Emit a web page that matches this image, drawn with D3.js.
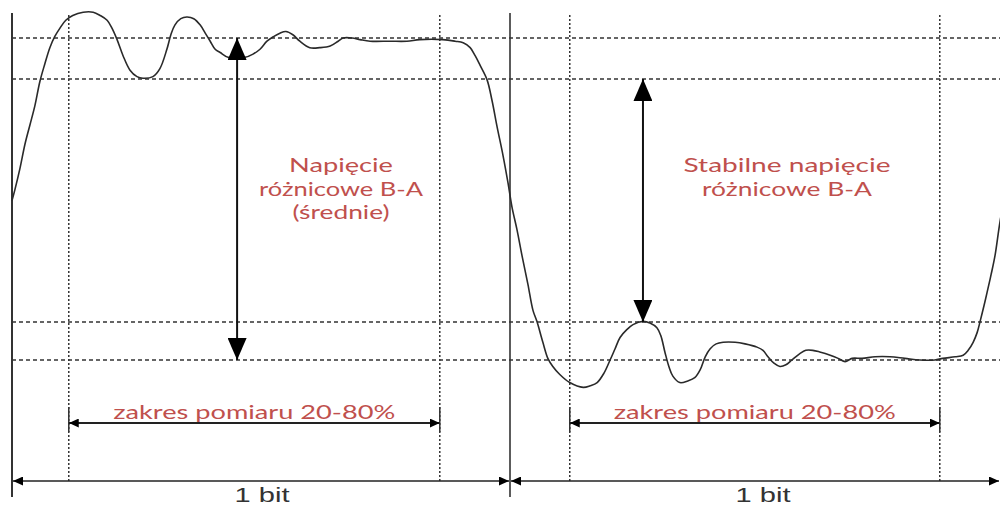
<!DOCTYPE html>
<html><head><meta charset="utf-8">
<script src="https://cdn.jsdelivr.net/npm/d3@7"></script>
<style>html,body{margin:0;padding:0;background:#fff;}svg{display:block;}</style>
</head><body>
<script>
// ---- data (time in ns, 1 bit = 100 ns; voltage normalized to mean level = ±1) ----
const waveT = [0,0.6,1.6,2.6,3.6,4.6,5.6,6.6,7.6,8.6,9.6,10.8,12.2,14.3,16.3,17.7,19.1,20.1,21.1,22.3,23.7,25.1,26.3,28.3,29.7,31.1,31.9,32.7,33.9,35.1,36.5,37.8,38.8,39.8,40.8,41.8,43.4,45.2,46.8,48.4,49.8,51.2,52.6,53.8,55.0,56.4,57.8,59.8,61.8,63.9,65.5,66.5,68.3,69.9,71.9,75.9,79.3,81.9,86.5,89.0,90.6,92.0,93.0,94.0,95.4,96.4,97.4,98.6,99.6,100.4,101.4,102.4,103.6,104.6,105.4,106.6,107.6,108.6,110.0,112.0,114.7,116.1,117.5,118.9,120.1,121.1,122.1,123.5,124.7,126.7,128.1,129.5,130.3,131.1,131.9,132.7,134.1,135.7,137.1,138.2,139.2,140.2,141.4,142.8,145.2,147.2,149.6,150.8,151.8,153.0,154.2,155.4,156.6,158.2,159.4,160.8,162.2,164.3,165.9,167.3,168.7,170.7,173.3,176.3,179.3,182.3,185.3,186.9,189.4,191.0,192.0,193.0,193.8,194.4,195.2,195.8,196.6,197.4,198.4,199.4];
const waveV = [-0.01,0.06,0.19,0.34,0.46,0.58,0.73,0.84,0.94,1.01,1.06,1.11,1.14,1.16,1.16,1.14,1.11,1.06,0.99,0.89,0.80,0.76,0.75,0.76,0.81,0.93,1.02,1.08,1.12,1.13,1.12,1.08,1.03,0.98,0.93,0.91,0.88,0.88,0.88,0.90,0.93,0.98,1.01,1.03,1.04,1.02,0.98,0.94,0.94,0.95,0.98,1.0,1.0,0.99,0.98,0.98,0.98,0.99,0.99,0.98,0.97,0.94,0.89,0.83,0.74,0.61,0.45,0.27,0.10,-0.05,-0.19,-0.35,-0.53,-0.69,-0.76,-0.89,-0.99,-1.04,-1.09,-1.14,-1.17,-1.16,-1.14,-1.08,-1.0,-0.93,-0.86,-0.81,-0.78,-0.76,-0.77,-0.80,-0.85,-0.95,-1.04,-1.10,-1.14,-1.13,-1.11,-1.06,-0.98,-0.93,-0.90,-0.89,-0.89,-0.90,-0.92,-0.94,-0.98,-1.02,-1.04,-1.03,-1.0,-0.96,-0.94,-0.94,-0.95,-0.97,-0.99,-1.01,-0.99,-0.99,-0.98,-0.98,-0.99,-1.0,-1.0,-0.99,-0.98,-0.97,-0.94,-0.89,-0.83,-0.76,-0.66,-0.58,-0.47,-0.35,-0.14,0.02];
const levels = [1.0, 0.745, -0.764, -1.0];          // dashed reference levels
const bitEdges = [0, 100, 200];                      // bit boundaries (ns)
const measureStart = [11.4, 112.0];                  // 20% points
const measureEnd = [85.9, 186.3];                    // 80% points
const diffArrows = [{t: 45.2, from: 1.0, to: -1.0}, {t: 126.7, from: 0.745, to: -0.764}];
const diffLabels = [["Napięcie", "różnicowe B-A", "(średnie)"], ["Stabilne napięcie", "różnicowe B-A"]];
const rangeLabel = "zakres pomiaru 20-80%";
const bitLabel = "1 bit";

// ---- drawing ----
const W = 1000, H = 506;
const x = d3.scaleLinear().domain([0, 200]).range([12, 1008]);
const y = d3.scaleLinear().domain([-1, 1]).range([360, 38]);
const svg = d3.select("body").append("svg").attr("width", W).attr("height", H);
const defs = svg.append("defs");
function marker(id, len, wid) {
  defs.append("marker").attr("id", id).attr("markerUnits", "userSpaceOnUse")
    .attr("viewBox", `0 0 ${len} ${wid}`).attr("refX", len).attr("refY", wid / 2)
    .attr("markerWidth", len).attr("markerHeight", wid).attr("orient", "auto-start-reverse")
    .append("path").attr("d", `M0,0L${len},${wid / 2}L0,${wid}Z`).attr("fill", "#000");
}
marker("big", 22, 19);
marker("small", 10, 9);

const ink = "#333";
const red = "#c0504d";
const gridTop = 15, rangeY = 423, bitY = 481;

// horizontal dashed reference levels
svg.selectAll(".lvl").data(levels).join("line")
  .attr("x1", x(0)).attr("x2", W).attr("y1", d => y(d)).attr("y2", d => y(d))
  .attr("stroke", ink).attr("stroke-width", 1.4).attr("stroke-dasharray", "4,3");

// vertical dotted 20%/80% lines
svg.selectAll(".vm").data(measureStart.concat(measureEnd)).join("line")
  .attr("x1", d => x(d)).attr("x2", d => x(d)).attr("y1", gridTop).attr("y2", bitY)
  .attr("stroke", ink).attr("stroke-width", 1.5).attr("stroke-dasharray", "2,2");

// solid bit boundaries
svg.selectAll(".be").data(bitEdges.slice(0, 2)).join("line")
  .attr("x1", d => x(d)).attr("x2", d => x(d)).attr("y1", 13).attr("y2", 497)
  .attr("stroke", ink).attr("stroke-width", (d, i) => i === 0 ? 2 : 1.6);

// waveform
const pts = waveT.map((t, i) => [t, waveV[i]]);
svg.append("path").datum(pts)
  .attr("d", d3.line().x(d => x(d[0])).y(d => y(d[1])).curve(d3.curveCatmullRom))
  .attr("fill", "none").attr("stroke", "#2a2a2a").attr("stroke-width", 1.6);

// vertical double arrows
svg.selectAll(".da").data(diffArrows).join("line")
  .attr("x1", d => x(d.t)).attr("x2", d => x(d.t)).attr("y1", d => y(d.from)).attr("y2", d => y(d.to))
  .attr("stroke", "#111").attr("stroke-width", 2)
  .attr("marker-start", "url(#big)").attr("marker-end", "url(#big)");

// measurement range arrows
measureStart.forEach((s, i) => {
  const e = measureEnd[i];
  [s, e].forEach(t => svg.append("line").attr("x1", x(t)).attr("x2", x(t)).attr("y1", 407).attr("y2", 432)
    .attr("stroke", ink).attr("stroke-width", 1.5));
  svg.append("line").attr("x1", x(s)).attr("x2", x(e)).attr("y1", rangeY).attr("y2", rangeY)
    .attr("stroke", "#222").attr("stroke-width", 2)
    .attr("marker-start", "url(#small)").attr("marker-end", "url(#small)");
  const cx = (x(s) + x(e)) / 2;
  svg.append("text").attr("x", cx).attr("y", 419).attr("text-anchor", "middle")
    .attr("font-family", "Lato, 'Open Sans', sans-serif").attr("font-size", 20).attr("fill", red)
    .attr("textLength", 282).attr("lengthAdjust", "spacingAndGlyphs").text(rangeLabel);
});

// bit arrows
for (let i = 0; i < 2; i++) {
  const a = x(bitEdges[i]), b = Math.min(x(bitEdges[i + 1]), W);
  svg.append("line").attr("x1", a + 1).attr("x2", b - 1).attr("y1", bitY).attr("y2", bitY)
    .attr("stroke", "#222").attr("stroke-width", 1.6)
    .attr("marker-start", "url(#small)").attr("marker-end", "url(#small)");
  svg.append("text").attr("x", [262, 763][i]).attr("y", 501.5).attr("text-anchor", "middle")
    .attr("font-family", "'Liberation Sans', Arial, sans-serif").attr("font-size", 20).attr("fill", "#333")
    .attr("textLength", 55).attr("lengthAdjust", "spacingAndGlyphs").text(bitLabel);
}

// red labels
const labelCfg = [
  {cx: 341, y0: 172, widths: [104, 164, 97]},
  {cx: 787, y0: 172, widths: [207, 170]}
];
diffLabels.forEach((lines, i) => {
  const c = labelCfg[i];
  lines.forEach((s, j) => {
    svg.append("text").attr("x", c.cx).attr("y", c.y0 + j * 23.5).attr("text-anchor", "middle")
      .attr("font-family", "Lato, 'Open Sans', sans-serif").attr("font-size", 19).attr("fill", red)
      .attr("textLength", c.widths[j]).attr("lengthAdjust", "spacingAndGlyphs").text(s);
  });
});
</script>
</body></html>
